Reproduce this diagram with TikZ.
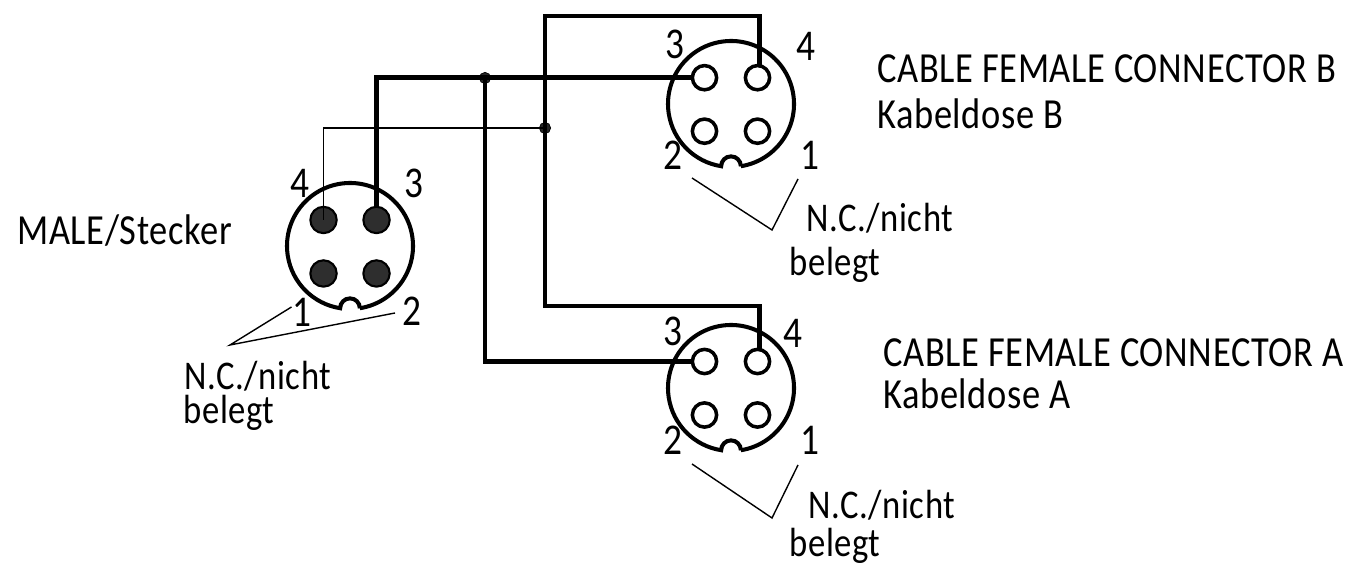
\documentclass[tikz,border=0pt]{standalone}
\usepackage{fontspec}
\setmainfont[LetterSpace=1.5,FakeStretch=0.85]{Carlito}
\usetikzlibrary{positioning,calc}
\tikzset{
  pinfemale/.style={circle,draw,line width=2pt,minimum size=13.8pt,inner sep=0pt,outer sep=0pt},
  pinmale/.style={circle,draw,fill=black!82,line width=1.2pt,minimum size=15pt,inner sep=0pt,outer sep=0pt},
  housing/.style={line width=2.3pt},
  wire/.style={line width=2.6pt},
  thinwire/.style={line width=1.1pt},
  leader/.style={line width=0.8pt},
  junction/.style={circle,fill=black!85,draw,minimum size=6.4pt,inner sep=0pt},
  pinnum/.style={font=\fontsize{25}{25}\selectfont,inner sep=0pt},
  caption/.style={anchor=west,font=\fontsize{24.4}{25}\selectfont,inner sep=0pt},
  nctext/.style={anchor=west,font=\fontsize{23.2}{24}\selectfont,inner sep=0pt},
}
\begin{document}
\begin{tikzpicture}[x=0.02cm,y=0.02cm]
        \useasboundingbox (0,0) rectangle (1351,573);
        % housings with key notch
        \foreach \c/\x/\y in {m/350/327,b/731/469,a/731/185}{
          \coordinate (\c) at (\x,\y);
          \draw[housing] ([shift={(-81:63)}]\c) arc[start angle=-81,end angle=261,radius=63]
            arc[start angle=180,end angle=0,radius=9.85];
        }
        % contacts
        \node[pinmale] (m4) at (323.5,353) {};
        \node[pinmale] (m3) at (376.5,353) {};
        \node[pinmale] (m1) at (323.5,299.5) {};
        \node[pinmale] (m2) at (376.5,299.5) {};
        \foreach \c/\y in {b/495.3,a/211.5}{
          \node[pinfemale] (\c3) at (704.5,\y) {};
          \node[pinfemale] (\c4) at (757.5,\y) {};
          \node[pinfemale] (\c2) at (704.5,\y-53.5) {};
          \node[pinfemale] (\c1) at (757.5,\y-53.5) {};
        }
        % wiring
        \node[junction] (j1) at (485,495) {};
        \node[junction] (j2) at (545,445) {};
        \coordinate (top) at (545,557);
        \coordinate (bend) at (545,267);
        \draw[wire] (m3.north) |- (b3.west);
        \draw[wire] (j1.center) |- (a3.west);
        \draw[wire] ([xshift=1.2pt]b4.north) |- (top) -- (bend) -| ([xshift=1.2pt]a4.north);
        \draw[thinwire] (m4.center) |- (j2.center);
        % pin numbers
        \node[pinnum] (m4t) at (300,390) {4};
        \node[pinnum] (m3t) at (414,390) {3};
        \node[pinnum] (m1t) at (302,261) {1};
        \node[pinnum] (m2t) at (412,262) {2};
        \node[pinnum] (b3t) at (675,529) {3};
        \node[pinnum] (b4t) at (806,527) {4};
        \node[pinnum] (b2t) at (673,418) {2};
        \node[pinnum] (b1t) at (810,418) {1};
        \node[pinnum] (a3t) at (673,242) {3};
        \node[pinnum] (a4t) at (793,240) {4};
        \node[pinnum] (a2t) at (673,133) {2};
        \node[pinnum] (a1t) at (810,133) {1};
        % not connected leaders
        \coordinate (mv) at (230,228);
        \draw[leader] (291.5,266) -- (mv) -- (395,260);
        \coordinate (bv) at (772,343);
        \draw[leader] (692,395) -- (bv) -- (798,394);
        \coordinate (av) at (772,55);
        \draw[leader] (692,109) -- (av) -- (798,108);
        % texts
        \node[caption] (mt) at (17,342) {MALE/Stecker};
        \node[nctext] (mn) at (184,197) {N.C./nicht};
        \node[nctext] (mb) at (183,160) {belegt};
        \node[nctext] (bn) at (806,355) {N.C./nicht};
        \node[nctext] (bb) at (789,308) {belegt};
        \node[nctext] (an) at (808,68) {N.C./nicht};
        \node[nctext] (ab) at (789,27) {belegt};
        \node[caption] (bt) at (877,504) {CABLE FEMALE CONNECTOR B};
        \node[caption] (bk) at (877,459) {Kabeldose B};
        \node[caption] (at) at (883,220) {CABLE FEMALE CONNECTOR A};
        \node[caption] (ak) at (883,179) {Kabeldose A};
\end{tikzpicture}
\end{document}
